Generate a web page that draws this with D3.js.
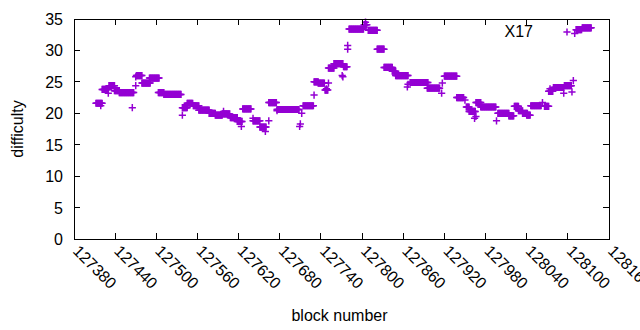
<!DOCTYPE html>
<html>
<head>
<meta charset="utf-8">
<script src="https://cdn.jsdelivr.net/npm/d3@7"></script>
<style>
  body { margin: 0; background: #fff; }
  text { font-family: "Liberation Sans", Arial, sans-serif; font-size: 16px; fill: #000; }
</style>
</head>
<body>
<svg id="chart" width="640" height="330"></svg>
<script>
// --- Données
const xTicks = [127380, 127440, 127500, 127560, 127620, 127680, 127740, 127800,
                127860, 127920, 127980, 128040, 128100, 128160];
const yTicks = [0, 5, 10, 15, 20, 25, 30, 35];
const seriesName = "X17";

// plages de blocs à difficulté constante : [début, fin, difficulté]
const runs = [
  [127412, 127421, 21.6], [127421, 127430, 23.8], [127431, 127439, 24.4],
  [127439, 127446, 23.6], [127446, 127467, 23.3], [127471, 127479, 26.0],
  [127479, 127491, 24.8], [127490, 127504, 25.6], [127503, 127511, 23.3],
  [127511, 127536, 23.0], [127538, 127545, 20.9], [127545, 127553, 21.6],
  [127554, 127562, 21.2], [127562, 127577, 20.5], [127577, 127586, 20.0],
  [127586, 127596, 19.7], [127596, 127607, 19.9], [127608, 127618, 19.3],
  [127618, 127625, 18.7], [127626, 127638, 20.7], [127641, 127651, 18.8],
  [127651, 127660, 17.8], [127664, 127675, 21.7], [127676, 127708, 20.6],
  [127714, 127729, 21.2], [127730, 127736, 25.0], [127736, 127745, 24.8],
  [127746, 127750, 23.7], [127751, 127759, 27.2], [127759, 127772, 27.9],
  [127773, 127778, 27.4], [127781, 127802, 33.4], [127803, 127807, 34.1],
  [127809, 127822, 33.2], [127822, 127832, 30.2], [127832, 127844, 27.3],
  [127844, 127849, 26.7], [127849, 127867, 26.0], [127870, 127896, 24.9],
  [127895, 127913, 24.0], [127920, 127938, 25.9], [127938, 127948, 22.5],
  [127952, 127956, 21.0], [127956, 127965, 20.3], [127966, 127973, 21.7],
  [127973, 127995, 21.0], [127998, 128014, 20.0], [128014, 128021, 19.6],
  [128022, 128028, 21.1], [128028, 128034, 20.4], [128034, 128041, 20.0],
  [128040, 128045, 19.7], [128046, 128061, 21.2], [128066, 128072, 21.1],
  [128072, 128078, 23.5], [128079, 128094, 24.1], [128095, 128105, 24.4],
  [128112, 128120, 33.3], [128121, 128134, 33.6]
];

// points isolés : [bloc, difficulté]
const singles = [
  [127419, 21.2], [127430, 23.2], [127465, 20.9], [127470, 24.4], [127470, 25.8],
  [127538, 19.7], [127598, 20.3], [127624, 17.9], [127641, 19.2], [127659, 17.1],
  [127664, 18.8], [127676, 20.4], [127709, 17.9], [127710, 18.3], [127712, 20.0],
  [127730, 22.9], [127748, 23.9], [127751, 24.8], [127771, 26.0], [127772, 25.8],
  [127779, 30.8], [127779, 30.2], [127805, 34.5], [127866, 24.2], [127867, 24.6],
  [127916, 23.2], [127917, 24.8], [127950, 22.1], [127964, 19.2], [127966, 19.5],
  [127996, 18.8], [128063, 21.7], [128074, 23.9], [128094, 23.2], [128106, 23.4],
  [128108, 25.2], [128110, 32.7]
];

// --- Mise en page
const margin = { left: 74, right: 31, top: 19, bottom: 91 };
const W = 640, H = 330;
const color = "#9400d3";

const svg = d3.select("#chart");

const x = d3.scaleLinear()
  .domain([xTicks[0], xTicks[xTicks.length - 1]])
  .range([margin.left, W - margin.right]);

const y = d3.scaleLinear()
  .domain([0, 35])
  .range([H - margin.bottom, margin.top]);

// un point par bloc
const points = [];
runs.forEach(([a, b, v]) => {
  for (let k = a; k <= b; k++) points.push([k, v]);
});
singles.forEach(p => points.push(p));

const s = 3.6;
const plus = (cx, cy) => `M${cx - s},${cy}h${2 * s}M${cx},${cy - s}v${2 * s}`;

svg.append("g")
  .selectAll("path")
  .data(points)
  .join("path")
  .attr("d", d => plus(x(d[0]), y(d[1])))
  .attr("stroke", color)
  .attr("stroke-width", 1.5)
  .attr("fill", "none");

// --- Cadre et graduations
const x0 = x.range()[0], x1 = x.range()[1];
const y0 = y.range()[0], y1 = y.range()[1];
const tl = 6;
const frame = svg.append("g")
  .attr("stroke", "#000")
  .attr("stroke-width", 1)
  .attr("shape-rendering", "crispEdges");

frame.append("rect")
  .attr("x", x0).attr("y", y1)
  .attr("width", x1 - x0).attr("height", y0 - y1)
  .attr("fill", "none");

xTicks.forEach(t => {
  frame.append("line").attr("x1", x(t)).attr("x2", x(t)).attr("y1", y0).attr("y2", y0 - tl);
  frame.append("line").attr("x1", x(t)).attr("x2", x(t)).attr("y1", y1).attr("y2", y1 + tl);
});
yTicks.forEach(t => {
  frame.append("line").attr("x1", x0).attr("x2", x0 + tl).attr("y1", y(t)).attr("y2", y(t));
  frame.append("line").attr("x1", x1).attr("x2", x1 - tl).attr("y1", y(t)).attr("y2", y(t));
});

// --- Étiquettes des graduations
svg.append("g")
  .selectAll("text")
  .data(yTicks)
  .join("text")
  .attr("x", x0 - 11)
  .attr("y", d => y(d) + 6)
  .attr("text-anchor", "end")
  .text(d => d);

svg.append("g")
  .selectAll("text")
  .data(xTicks)
  .join("text")
  .attr("transform", d => `translate(${x(d) - 2},${y0 + 13}) rotate(45)`)
  .attr("text-anchor", "start")
  .text(d => d);

// --- Titres des axes
svg.append("text")
  .attr("transform", `translate(23,${(y0 + y1) / 2}) rotate(-90)`)
  .attr("text-anchor", "middle")
  .text("difficulty");

svg.append("text")
  .attr("x", (x0 + x1) / 2 - 2)
  .attr("y", 321)
  .attr("text-anchor", "middle")
  .text("block number");

// --- Légende
svg.append("text")
  .attr("x", 533)
  .attr("y", 37)
  .attr("text-anchor", "end")
  .text(seriesName);

svg.append("path")
  .attr("d", plus(567, 32))
  .attr("stroke", color)
  .attr("stroke-width", 1.5)
  .attr("fill", "none");
</script>
</body>
</html>
